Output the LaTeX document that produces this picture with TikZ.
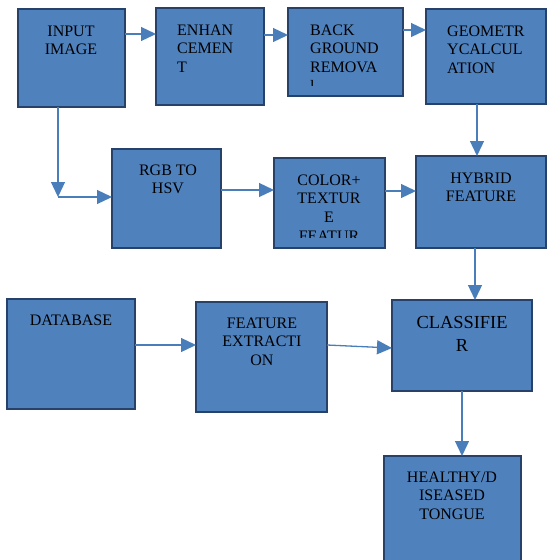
\documentclass[tikz,border=0pt]{standalone}
\usepackage{fontspec}
\setmainfont{Liberation Serif}
\usetikzlibrary{arrows.meta}
\definecolor{boxblue}{HTML}{4F81BD}
\definecolor{boxedge}{HTML}{27426A}
\definecolor{arrblue}{HTML}{4A7EBB}
\begin{document}
\begin{tikzpicture}[x=1pt,y=-1pt,
  box/.style={draw=boxedge,fill=boxblue,line width=2.2pt,inner sep=0pt,outer sep=0pt,anchor=north west},
  lbl/.style={inner sep=0pt,anchor=base,text=black,font=\fontsize{16}{18.8}\selectfont},
  lbll/.style={lbl,align=left},
  lblc/.style={lbl,align=center},
  arr/.style={draw=arrblue,line width=1.3pt,-{Triangle[length=15pt,width=14pt]}},
  ln/.style={draw=arrblue,line width=1.3pt}]
\clip (0,0) rectangle (547,560);
\useasboundingbox (0,0) rectangle (547,560);
% boxes
\node[box,minimum width=107pt,minimum height=98pt] (inp) at (18,9) {};
\node[box,minimum width=108pt,minimum height=97pt] (enh) at (156,8) {};
\node[box,minimum width=115pt,minimum height=88pt] (bg) at (288,8) {};
\node[box,minimum width=120pt,minimum height=95pt] (geo) at (426,9) {};
\node[box,minimum width=109pt,minimum height=99pt] (rgb) at (112,149) {};
\node[box,minimum width=111pt,minimum height=90pt] (col) at (274,158) {};
\node[box,minimum width=130pt,minimum height=92pt] (hyb) at (416,156) {};
\node[box,minimum width=128pt,minimum height=110pt] (db) at (7,299) {};
\node[box,minimum width=131pt,minimum height=110pt] (fe) at (196,302) {};
\node[box,minimum width=140pt,minimum height=91pt] (cls) at (392,300) {};
\node[box,minimum width=137pt,minimum height=124pt] (hd) at (384,456) {};
% labels (anchor = baseline of last line)
\node[lblc] (inpt) at (71,54.8) {INPUT\\IMAGE};
\node[lbll,anchor=base west] (enht) at (177,72.6) {ENHAN\\CEMEN\\T};
\begin{scope}
\clip (288,8) rectangle (403,85.5);
\node[lbll,anchor=base west] (bgt) at (310,91.4) {BACK\\GROUND\\REMOVA\\l};
\end{scope}
\node[lbll,anchor=base west] (geot) at (447,73.6) {GEOMETR\\YCALCUL\\ATION};
\node[lblc] (rgbt) at (168,193.8) {RGB TO\\HSV};
\begin{scope}
\clip (274,158) rectangle (385,237);
\node[lblc] (colt) at (329,241.4) {COLOR+\\TEXTUR\\E\\FEATUR};
\end{scope}
\node[lblc] (hybt) at (481,201.8) {HYBRID\\FEATURE};
\node[lblc] (dbt) at (71,325) {DATABASE};
\node[lblc] (fet) at (262,365.6) {FEATURE\\EXTRACTI\\ON};
\node[lblc,font=\fontsize{18.4}{23}\selectfont] (clst) at (462,351) {CLASSIFIE\\R};
\node[lblc] (hdt) at (452,519.6) {HEALTHY/D\\ISEASED\\TONGUE};
% connectors
\coordinate (c1) at (58,197);
\draw[arr] (inp.east|-0,34) -- (enh.west|-0,34);
\draw[arr] (enh.east|-0,35) -- (bg.west|-0,35);
\draw[arr] (bg.east|-0,30) -- (geo.west|-0,30);
\draw[arr] (geo.south-|477,0) -- (hyb.north-|477,0);
\draw[arr] (inp.south-|c1) -- (c1);
\draw[arr] (c1) -- (rgb.west|-c1);
\draw[arr] (rgb.east|-0,190) -- (col.west|-0,190);
\draw[arr] (col.east|-0,191) -- (hyb.west|-0,191);
\draw[arr] (hyb.south-|475,0) -- (cls.north-|475,0);
\draw[arr] (db.east|-0,345) -- (fe.west|-0,345);
\draw[arr] (fe.east|-0,345) -- (cls.west|-0,348);
\draw[arr] (cls.south-|462,0) -- (hd.north-|462,0);
\end{tikzpicture}
\end{document}
